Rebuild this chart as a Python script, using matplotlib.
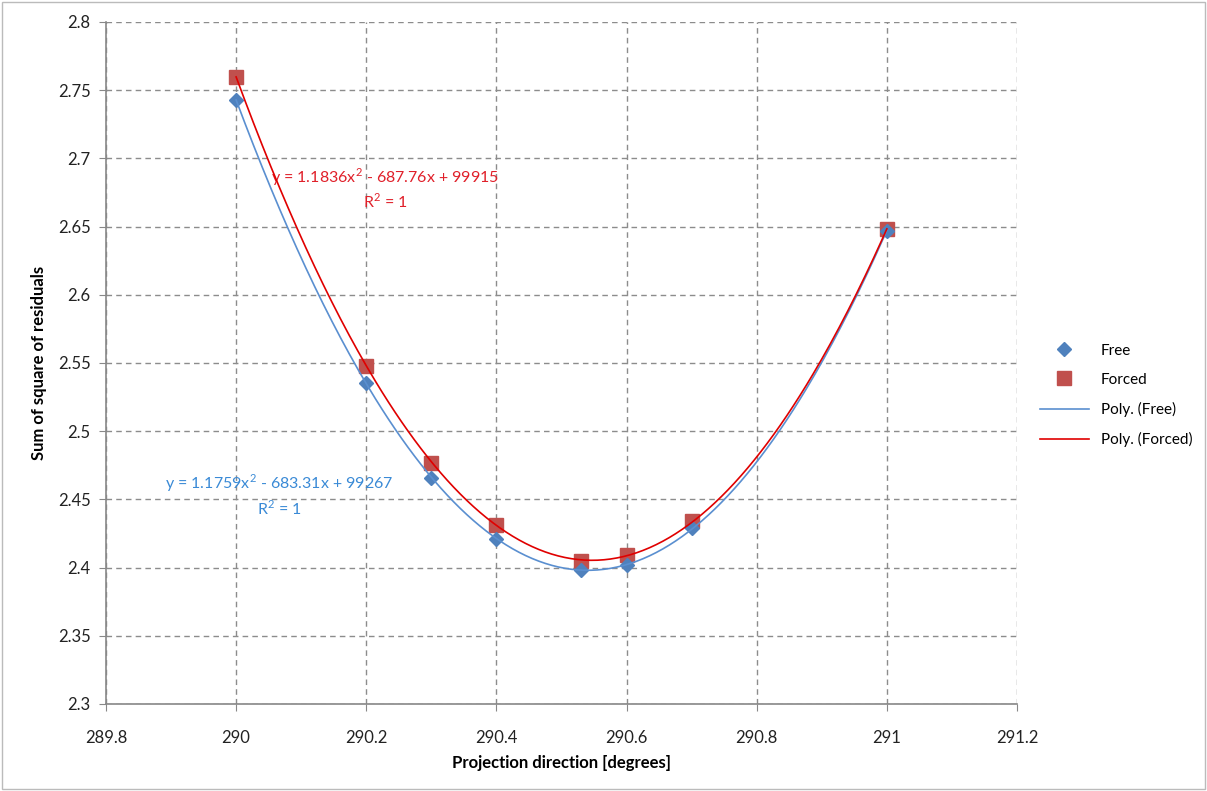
import numpy as np
import matplotlib
matplotlib.use("Agg")
import matplotlib.pyplot as plt
from matplotlib.patches import Rectangle

# Data
direction = [290.0, 290.2, 290.3, 290.4, 290.53, 290.6, 290.7, 291.0]
free = [2.743, 2.535, 2.466, 2.421, 2.398, 2.402, 2.429, 2.647]
forced = [2.760, 2.548, 2.477, 2.431, 2.405, 2.409, 2.434, 2.648]

x_ticks = [289.8, 290, 290.2, 290.4, 290.6, 290.8, 291, 291.2]
x_tick_labels = ["289.8", "290", "290.2", "290.4", "290.6", "290.8", "291", "291.2"]
y_ticks = [2.3, 2.35, 2.4, 2.45, 2.5, 2.55, 2.6, 2.65, 2.7, 2.75, 2.8]
y_tick_labels = ["2.3", "2.35", "2.4", "2.45", "2.5", "2.55", "2.6", "2.65", "2.7", "2.75", "2.8"]

eq_free = "y = 1.1759x$^{2}$ - 683.31x + 99267\nR$^{2}$ = 1"
eq_forced = "y = 1.1836x$^{2}$ - 687.76x + 99915\nR$^{2}$ = 1"

plt.rcParams['font.family'] = ['Lato', 'DejaVu Sans']
plt.rcParams['mathtext.fontset'] = 'custom'
plt.rcParams['mathtext.rm'] = 'Lato'

fig = plt.figure(figsize=(12.07, 7.91), dpi=100)
ax = fig.add_axes([0.0878, 0.11, 0.8426 - 0.0878, 0.9722 - 0.11])

# Polynomial trendlines (order 2) fitted to the points
xs = np.linspace(min(direction), max(direction), 300)
p_free = np.polyfit(direction, free, 2)
p_forced = np.polyfit(direction, forced, 2)

blue = '#4f81bd'
red = '#c0504d'

ax.plot(direction, free, linestyle='none', marker='D', markersize=7, color=blue, label='Free', zorder=4)
ax.plot(direction, forced, linestyle='none', marker='s', markersize=10, color=red, label='Forced', zorder=3)
ax.plot(xs, np.polyval(p_free, xs), color='#5a8fd0', lw=1.2, label='Poly. (Free)', zorder=5)
ax.plot(xs, np.polyval(p_forced, xs), color='#e00000', lw=1.2, label='Poly. (Forced)', zorder=5)

ax.set_xlim(289.8, 291.2)
ax.set_ylim(2.3, 2.8)
ax.set_xticks(x_ticks)
ax.set_xticklabels(x_tick_labels)
ax.set_yticks(y_ticks)
ax.set_yticklabels(y_tick_labels)
ax.tick_params(labelsize=12, colors='#222222', direction='out', length=5, color='#888888', pad=6)
ax.tick_params(axis='x', pad=14)

ax.grid(True, color='#8c8c8c', linestyle=(0, (4, 3)), linewidth=1)
ax.set_axisbelow(True)
for side in ['top', 'right']:
    ax.spines[side].set_visible(False)
for side in ['left', 'bottom']:
    ax.spines[side].set_color('#888888')
    ax.spines[side].set_linewidth(1.2)

ax.set_xlabel("Projection direction [degrees]", fontsize=12, fontweight='bold', labelpad=6)
ax.set_ylabel("Sum of square of residuals", fontsize=12, fontweight='bold', labelpad=8)

ax.text(290.229, 2.678, eq_forced, color='#e0202a', fontsize=11.5, ha='center', va='center',
        multialignment='center', linespacing=1.3)
ax.text(290.067, 2.453, eq_free, color='#3a8ad6', fontsize=11.5, ha='center', va='center',
        multialignment='center', linespacing=1.3)

fig.legend(loc='center left', bbox_to_anchor=(0.85, 0.5), frameon=False, fontsize=11,
           handlelength=3.2, labelspacing=1.0)

fig.patches.append(Rectangle((0.002, 0.002), 0.996, 0.996, transform=fig.transFigure,
                             fill=False, edgecolor='#bbbbbb', linewidth=1))

plt.savefig("out.png", dpi=100)
